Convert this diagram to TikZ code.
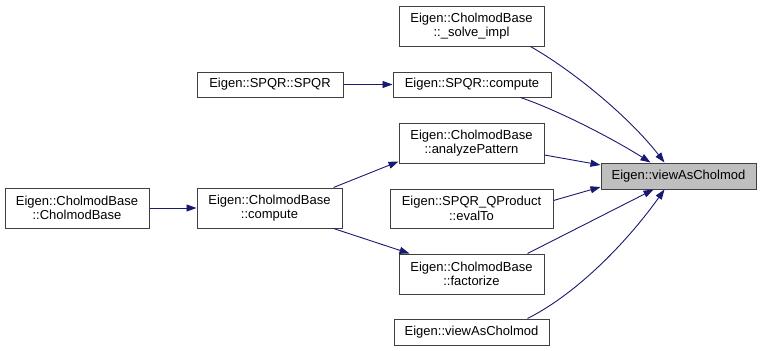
\documentclass[tikz,border=0pt]{standalone}
\usepackage{fontspec}
\setmainfont{Liberation Sans}
\usetikzlibrary{arrows.meta}
\definecolor{edgeblue}{HTML}{191970}
\definecolor{boxgray}{HTML}{404040}
\definecolor{targetgray}{HTML}{BFBFBF}

\begin{document}
\begin{tikzpicture}[x=1pt, y=-1pt,
    fn/.style={draw=boxgray, line width=1pt, inner sep=0pt, align=center,
               font=\fontsize{13}{14.5}\selectfont},
    call/.style={edgeblue, line width=0.9pt, -{Triangle[length=10pt,width=7pt]}}]
        \useasboundingbox (0,0) rectangle (761,351);

        % Define the function boxes
        \node[fn, fill=targetgray, minimum width=155pt, minimum height=26pt] (Target) at (678.5,176) {Eigen::viewAsCholmod};
        \node[fn, minimum width=145pt, minimum height=40pt] (SolveImpl) at (471.5,26) {Eigen::CholmodBase\\::\_solve\_impl};
        \node[fn, minimum width=158pt, minimum height=25pt] (SpqrCompute) at (472,84.5) {Eigen::SPQR::compute};
        \node[fn, minimum width=146pt, minimum height=25pt] (SpqrCtor) at (270,84.5) {Eigen::SPQR::SPQR};
        \node[fn, minimum width=145pt, minimum height=40pt] (Analyze) at (471.5,143) {Eigen::CholmodBase\\::analyzePattern};
        \node[fn, minimum width=163pt, minimum height=39pt] (EvalTo) at (471.5,208.5) {Eigen::SPQR\_QProduct\\::evalTo};
        \node[fn, minimum width=145pt, minimum height=40pt] (Factorize) at (471.5,274) {Eigen::CholmodBase\\::factorize};
        \node[fn, minimum width=155pt, minimum height=26pt] (ViewAsLow) at (471.5,332) {Eigen::viewAsCholmod};
        \node[fn, minimum width=145pt, minimum height=40pt] (Compute) at (269.5,208) {Eigen::CholmodBase\\::compute};
        \node[fn, minimum width=144pt, minimum height=40pt] (BaseCtor) at (77,208) {Eigen::CholmodBase\\::CholmodBase};

        % Draw calls into the target
        \draw[call] ([xshift=-14pt]SolveImpl.south east) .. controls (575,72) and (630,118) .. ([xshift=-14pt]Target.north);
        \draw[call] ([xshift=-31pt]SpqrCompute.south east) .. controls (560,111) and (615,140) .. ([xshift=-28pt]Target.north);
        \draw[call] ([yshift=-12pt]Analyze.east) -- ([yshift=11pt]Target.west);
        \draw[call] ([yshift=-12pt]EvalTo.north east) -- ([yshift=-11pt]Target.west);
        \draw[call] ([xshift=-17pt]Factorize.north east) -- ([xshift=-25pt]Target.south);
        \draw[call] ([xshift=-22pt]ViewAsLow.north east) .. controls (580,292) and (630,238) .. ([xshift=-14pt]Target.south);

        % Draw the remaining calls
        \draw[call] (SpqrCtor.east) -- (SpqrCompute.west);
        \draw[call] (BaseCtor.east) -- (Compute.west);
        \draw[call] ([xshift=-9pt]Compute.north east) -- ([yshift=2pt]Analyze.south west);
        \draw[call] ([xshift=-9pt]Compute.south east) -- ([xshift=11pt]Factorize.north west);

    \end{tikzpicture}
\end{document}
